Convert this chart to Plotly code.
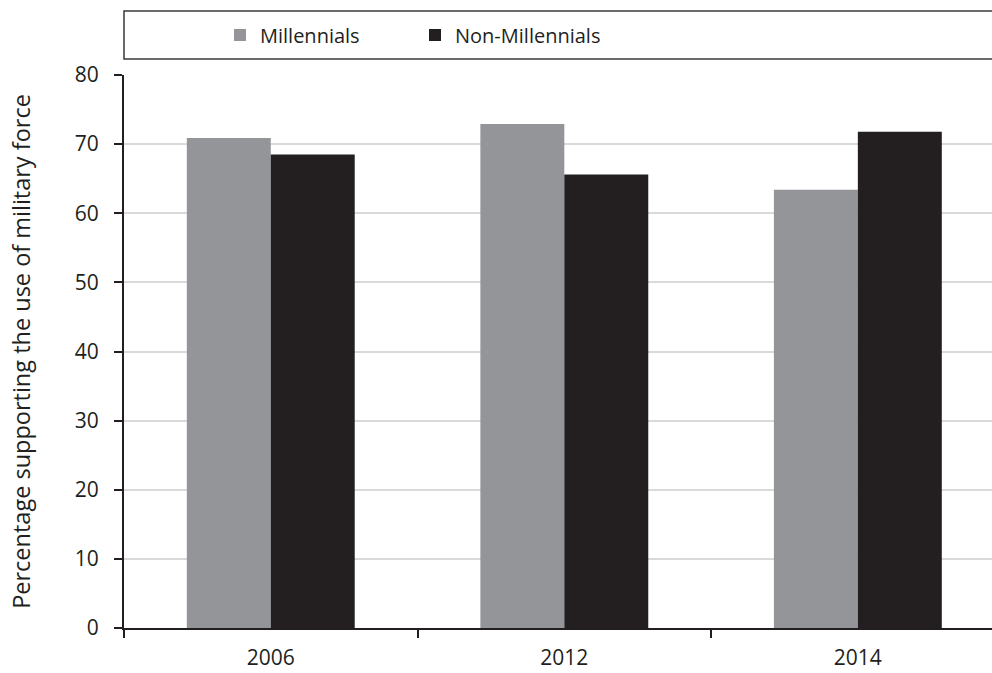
import plotly.graph_objects as go

years = ["2006", "2012", "2014"]
millennials = [70.9, 72.9, 63.4]
non_millennials = [68.5, 65.6, 71.8]
y_ticks = [0, 10, 20, 30, 40, 50, 60, 70, 80]

W, H = 992, 673
ML, MR, MT, MB = 124, 0, 75, 45
PH = H - MT - MB

FONT = "Open Sans"
TXT = "#231F20"

fig = go.Figure()
fig.add_trace(go.Bar(x=years, y=millennials, name="Millennials",
                     marker=dict(color="#939598", line=dict(width=0))))
fig.add_trace(go.Bar(x=years, y=non_millennials, name="Non-Millennials",
                     marker=dict(color="#231F20", line=dict(width=0))))

def py(px):
    return (H - MB - px) / PH

fig.add_shape(type="rect", xref="paper", yref="paper",
              x0=0, x1=1.02, y0=py(59), y1=py(11),
              line=dict(color="#3a3a3a", width=1.5), fillcolor="white", layer="below")

fig.update_layout(
    width=W, height=H,
    margin=dict(l=ML, r=MR, t=MT, b=MB),
    paper_bgcolor="white", plot_bgcolor="white",
    barmode="group", bargap=0.428, bargroupgap=0,
    font=dict(family=FONT, color=TXT, size=20),
    legend=dict(orientation="h", x=(240 - 20 - ML) / (W - ML - MR), xanchor="left",
                y=py(35), yanchor="middle", bgcolor="rgba(0,0,0,0)",
                font=dict(family=FONT, size=20, color=TXT),
                entrywidth=150, entrywidthmode="pixels",
                itemclick=False, traceorder="normal"),
    xaxis=dict(range=[-0.5, 2.457], showline=True, linecolor=TXT, linewidth=2,
               ticks="outside", tickson="boundaries", ticklen=8, tickwidth=2,
               tickcolor=TXT, showgrid=False, ticklabelstandoff=10,
               tickfont=dict(size=21, family=FONT, color=TXT)),
    yaxis=dict(range=[0, 80], tickvals=y_ticks, showline=True, linecolor=TXT, linewidth=2,
               ticks="outside", ticklen=8, tickwidth=2, tickcolor=TXT,
               gridcolor="#d9d9d9", gridwidth=2, zeroline=False, ticklabelstandoff=11,
               tickfont=dict(size=21, family=FONT, color=TXT),
               title=dict(text="Percentage supporting the use of military force",
                          font=dict(size=23.5, family=FONT, color=TXT), standoff=38)),
)

fig.write_html("out.html")
